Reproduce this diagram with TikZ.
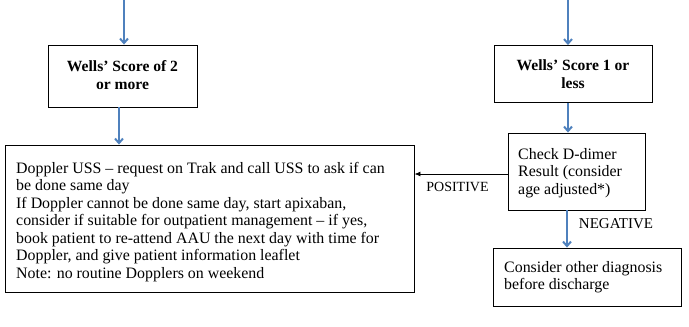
\documentclass[tikz,border=0pt]{standalone}
\usepackage{fontspec}
\setmainfont{Liberation Serif}
\usetikzlibrary{arrows.meta,calc}
\definecolor{arrowblue}{RGB}{79,129,189}
\begin{document}
\begin{tikzpicture}[x=1pt,y=-1pt,
  box/.style={draw=black, line width=0.9pt, rectangle, inner sep=0pt},
  boldtxt/.style={font=\fontsize{15.6}{18}\selectfont\bfseries, align=center},
  bodytxt/.style={font=\fontsize{15.9}{17.5}\selectfont, align=left},
  lbl/.style={font=\fontsize{14}{14}\selectfont},
  bluearrow/.style={draw=arrowblue, line width=2.4pt, -{Straight Barb[length=4.5pt,width=8pt,line width=2pt]}},
  blackarrow/.style={draw=black, line width=0.9pt, -{Latex[length=6pt,width=5pt]}}]
\useasboundingbox (0,0) rectangle (689,327);

% boxes
\node[box, minimum width=149pt, minimum height=62pt] (w2) at (122.5,76) {};
\node[boldtxt] (w2t) at (122.5,75) {Wells’ Score of 2\\or more};

\node[box, minimum width=158pt, minimum height=57pt] (w1) at (573,74) {};
\node[boldtxt] (w1t) at (573,74) {Wells’ Score 1 or\\less};

\node[box, minimum width=409pt, minimum height=147pt] (dop) at (209.5,218.5) {};
\node[bodytxt, anchor=north west, inner sep=0pt] (dopt) at (16,162) {Doppler USS – request on Trak and call USS to ask if can\\be done same day\\If Doppler cannot be done same day, start apixaban,\\consider if suitable for outpatient management – if yes,\\book patient to re-attend AAU the next day with time for\\Doppler, and give patient information leaflet\\Note: no routine Dopplers on weekend};

\node[box, minimum width=137pt, minimum height=77pt] (dd) at (576.5,171.5) {};
\node[bodytxt, anchor=north west, inner sep=0pt] (ddt) at (518,148) {Check D-dimer\\Result (consider\\age adjusted*)};

\node[box, minimum width=188pt, minimum height=58pt] (oth) at (587,277) {};
\node[bodytxt, anchor=north west, inner sep=0pt] (otht) at (504,261) {Consider other diagnosis\\before discharge};

% labels
\node[lbl] (pos) at (457.5,187) {POSITIVE};
\node[lbl, font=\fontsize{15}{15}\selectfont] (neg) at (616,224) {NEGATIVE};

% connectors
\coordinate (topL) at (124,0);
\coordinate (topR) at (568,0);
\draw[bluearrow] (topL) -- (topL |- w2.north);
\draw[bluearrow] (topR) -- (topR |- w1.north);
\draw[bluearrow] ([xshift=-3.5pt]w2.south) -- ([xshift=-3.5pt]w2.south |- dop.north);
\draw[bluearrow] ([xshift=-5pt]w1.south) -- ([xshift=-5pt]w1.south |- dd.north);
\draw[bluearrow] ([xshift=-9.5pt]dd.south) -- ([xshift=-9.5pt]dd.south |- oth.north);
\draw[blackarrow] ([yshift=-2.5pt]dd.west) -- ([yshift=-2.5pt]dd.west -| dop.east);
\end{tikzpicture}
\end{document}
